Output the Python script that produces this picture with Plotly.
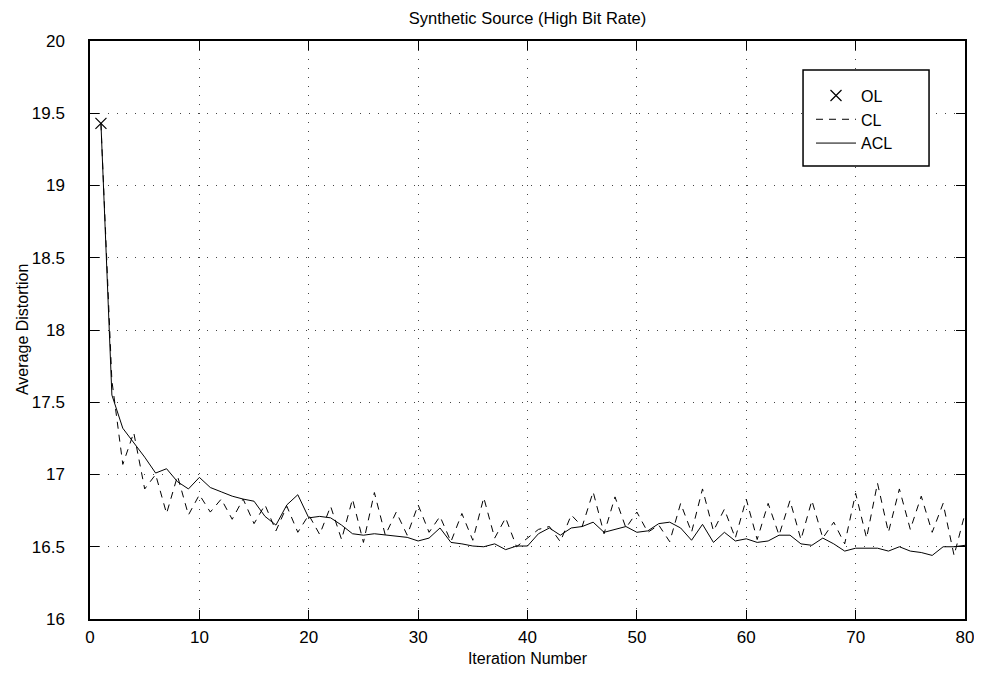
import plotly.graph_objects as go

iterations = list(range(1, 81))

ol_iter = [1]
ol_values = [19.43]

cl_values = [
    19.43, 17.65, 17.07, 17.29, 16.90, 17.00, 16.73, 16.99, 16.72, 16.86,
    16.74, 16.83, 16.69, 16.83, 16.66, 16.79, 16.61, 16.78, 16.60, 16.72,
    16.585, 16.78, 16.55, 16.83, 16.53, 16.875, 16.58, 16.74, 16.58, 16.79,
    16.60, 16.71, 16.535, 16.73, 16.545, 16.84, 16.56, 16.70, 16.50, 16.56,
    16.62, 16.64, 16.535, 16.72, 16.64, 16.88, 16.59, 16.845, 16.63, 16.74,
    16.60, 16.65, 16.535, 16.80, 16.60, 16.90, 16.61, 16.76, 16.56, 16.83,
    16.55, 16.80, 16.58, 16.82, 16.55, 16.82, 16.56, 16.67, 16.52, 16.87,
    16.56, 16.94, 16.60, 16.90, 16.62, 16.85, 16.60, 16.80, 16.44, 16.73,
]

acl_values = [
    19.43, 17.55, 17.32, 17.22, 17.12, 17.01, 17.04, 16.95, 16.90, 16.98,
    16.91, 16.88, 16.85, 16.83, 16.815, 16.71, 16.65, 16.79, 16.86, 16.70,
    16.71, 16.70, 16.65, 16.59, 16.58, 16.59, 16.58, 16.57, 16.565, 16.54,
    16.56, 16.63, 16.53, 16.52, 16.505, 16.50, 16.52, 16.48, 16.505, 16.505,
    16.59, 16.63, 16.58, 16.63, 16.64, 16.67, 16.60, 16.62, 16.64, 16.60,
    16.61, 16.66, 16.67, 16.63, 16.545, 16.655, 16.53, 16.60, 16.54, 16.555,
    16.53, 16.54, 16.58, 16.58, 16.52, 16.51, 16.56, 16.52, 16.47, 16.49,
    16.49, 16.49, 16.47, 16.50, 16.47, 16.46, 16.44, 16.50, 16.50, 16.51,
]

x_ticks = [0, 10, 20, 30, 40, 50, 60, 70, 80]
y_ticks = [16, 16.5, 17, 17.5, 18, 18.5, 19, 19.5, 20]
y_tick_labels = ["16", "16.5", "17", "17.5", "18", "18.5", "19", "19.5", "20"]

font_family = "Liberation Sans, Arial, sans-serif"

fig = go.Figure()

fig.add_trace(
    go.Scatter(
        x=ol_iter,
        y=ol_values,
        mode="markers",
        name="OL",
        marker=dict(symbol="x-thin", size=11, color="black", line=dict(width=1.2, color="black")),
    )
)

fig.add_trace(
    go.Scatter(
        x=iterations,
        y=cl_values,
        mode="lines",
        name="CL",
        line=dict(color="black", width=1, dash="7px,6px"),
    )
)

fig.add_trace(
    go.Scatter(
        x=iterations,
        y=acl_values,
        mode="lines",
        name="ACL",
        line=dict(color="black", width=1),
    )
)

axis_common = dict(
    showline=True,
    linecolor="black",
    linewidth=1.5,
    mirror="ticks",
    ticks="inside",
    ticklen=9,
    tickcolor="black",
    showgrid=True,
    gridcolor="#444444",
    griddash="1px,8px",
    gridwidth=1,
    zeroline=False,
    automargin=False,
    ticklabeloverflow="allow",
    tickfont=dict(family=font_family, size=17, color="black"),
)

fig.update_xaxes(
    range=[0, 80],
    tickvals=x_ticks,
    ticklabelstandoff=2,
    title=dict(text="Iteration Number", font=dict(family=font_family, size=16, color="black"), standoff=9),
    **axis_common,
)
fig.update_yaxes(
    range=[16, 20],
    tickvals=y_ticks,
    ticktext=y_tick_labels,
    ticklabelstandoff=20,
    **axis_common,
)

# y title placed by hand, close to the tick labels like the original
fig.add_annotation(
    text="Average Distortion",
    xref="paper",
    yref="paper",
    x=-0.0777,
    y=0.5,
    xanchor="center",
    yanchor="middle",
    textangle=-90,
    showarrow=False,
    font=dict(family=font_family, size=16, color="black"),
)

# legend frame (MATLAB-style box with padding)
fig.add_shape(
    type="rect",
    xref="paper",
    yref="paper",
    x0=0.8149,
    x1=0.9589,
    y0=0.7837,
    y1=0.9498,
    line=dict(color="black", width=1.5),
    fillcolor="white",
    layer="above",
)

# page body has an 8px margin, so the figure is offset by 8px
fig.update_layout(
    width=974,
    height=659,
    margin=dict(l=82, r=17, t=33, b=48),
    paper_bgcolor="white",
    plot_bgcolor="white",
    title=dict(
        text="Synthetic Source (High Bit Rate)",
        xref="paper",
        x=0.5,
        xanchor="center",
        yref="container",
        y=1 - 10 / 659,
        yanchor="middle",
        font=dict(family=font_family, size=16.5, color="black"),
    ),
    legend=dict(
        x=0.824,
        y=0.935,
        xanchor="left",
        yanchor="top",
        bgcolor="rgba(0,0,0,0)",
        borderwidth=0,
        font=dict(family=font_family, size=16, color="black"),
        tracegroupgap=0,
        itemwidth=40,
    ),
    showlegend=True,
)

fig.write_html("out.html")
